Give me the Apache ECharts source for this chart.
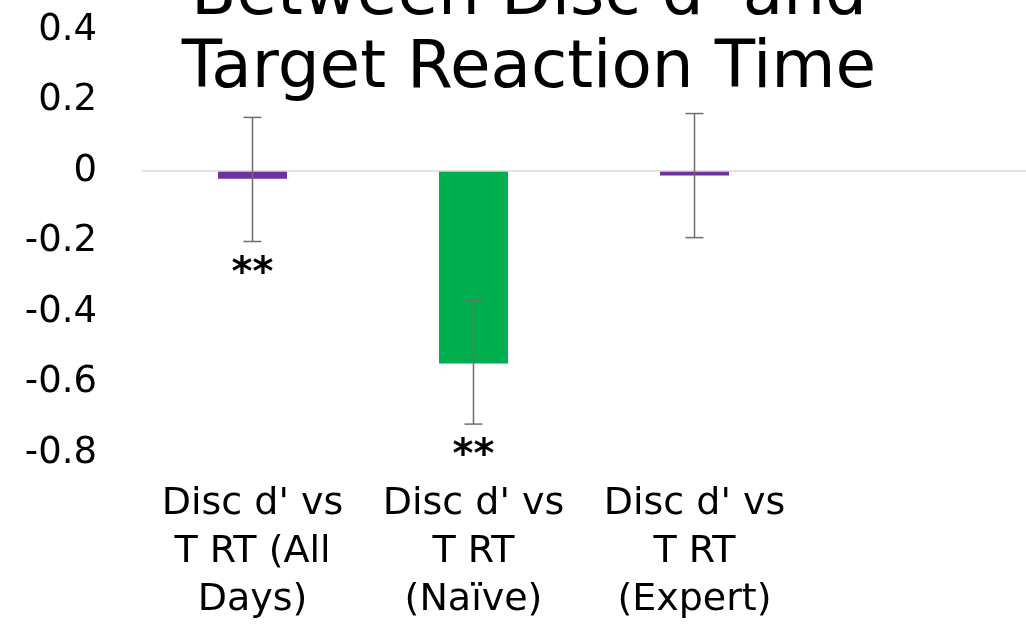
<!DOCTYPE html>
<html>
<head>
<meta charset="utf-8">
<script src="https://cdn.jsdelivr.net/npm/echarts@6/dist/echarts.min.js"></script>
<style>
  html, body { margin: 0; padding: 0; background: #fff; }
  #chart { width: 1026px; height: 624px; }
</style>
</head>
<body>
<div id="chart"></div>
<script>
// --- DATA ---
const categories = [
  "Disc d' vs\nT RT (All\nDays)",
  "Disc d' vs\nT RT\n(Naïve)",
  "Disc d' vs\nT RT\n(Expert)",
  ""
];
const values = [-0.022, -0.546, -0.013, null];
const barColors = ["#7030A0", "#00B050", "#7030A0", "#7030A0"];
const errLow = [-0.2, -0.718, -0.189];
const errHigh = [0.152, -0.366, 0.163];
const sigMarks = ["**", "**", ""];

const FONT = "DejaVu Sans";

const chart = echarts.init(document.getElementById("chart"));

// error bars + significance stars
function renderErrorBar(params, api) {
  const idx = api.value(0);
  const top = api.coord([idx, api.value(2)]);
  const bottom = api.coord([idx, api.value(1)]);
  const half = 9;
  const style = { stroke: "#6e6e6e", lineWidth: 1.5 };
  const children = [
    { type: "line", shape: { x1: top[0], y1: top[1], x2: bottom[0], y2: bottom[1] }, style },
    { type: "line", shape: { x1: top[0] - half, y1: top[1], x2: top[0] + half, y2: top[1] }, style },
    { type: "line", shape: { x1: bottom[0] - half, y1: bottom[1], x2: bottom[0] + half, y2: bottom[1] }, style },
  ];
  const mark = sigMarks[idx];
  if (mark) {
    children.push({
      type: "text",
      style: {
        text: mark,
        x: bottom[0],
        y: bottom[1] + 13,
        align: "center",
        verticalAlign: "top",
        font: "bold 40px '" + FONT + "'",
        fill: "#000",
      },
    });
  }
  return { type: "group", children };
}

const option = {
  animation: false,
  backgroundColor: "#fff",
  title: {
    text: "Between Disc d' and\nTarget Reaction Time",
    left: 524,
    top: -45,
    textAlign: "center",
    textStyle: {
      fontFamily: FONT,
      fontSize: 66,
      fontWeight: "normal",
      lineHeight: 73,
      color: "#000",
    },
  },
  grid: { left: 142, width: 888, top: 30, bottom: 168 },
  xAxis: {
    type: "category",
    data: categories,
    axisLine: { show: false, onZero: false },
    axisTick: { show: false },
    axisLabel: {
      interval: 0,
      margin: 27,
      fontFamily: FONT,
      fontSize: 38,
      lineHeight: 48,
      color: "#000",
    },
  },
  yAxis: {
    type: "value",
    min: -0.8,
    max: 0.4,
    interval: 0.2,
    axisLine: { show: false },
    axisTick: { show: false },
    splitLine: { show: false },
    axisLabel: {
      margin: 45,
      fontFamily: FONT,
      fontSize: 37,
      color: "#000",
      formatter: (v) => String(Math.round(v * 10) / 10),
    },
  },
  series: [
    {
      type: "bar",
      data: values.map((v, i) => ({ value: v, itemStyle: { color: barColors[i] } })),
      barWidth: 69,
      markLine: {
        silent: true,
        symbol: "none",
        label: { show: false },
        lineStyle: { color: "#d9d9d9", width: 1.5, type: "solid" },
        data: [{ yAxis: 0 }],
      },
    },
    {
      type: "custom",
      renderItem: renderErrorBar,
      data: errLow.map((lo, i) => [i, lo, errHigh[i]]),
      z: 5,
    },
  ],
};

chart.setOption(option);
</script>
</body>
</html>
